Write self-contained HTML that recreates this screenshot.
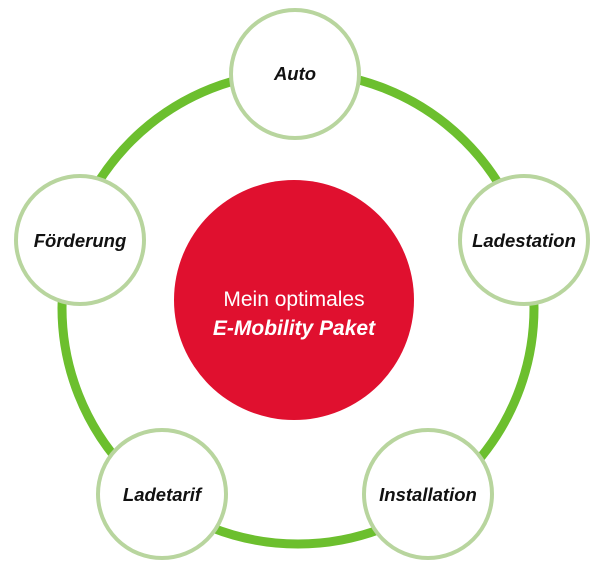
<!DOCTYPE html>
<html><head><meta charset="utf-8"><style>
html,body{margin:0;padding:0;background:#fff;}
svg{display:block;}
text{font-family:"Liberation Sans",sans-serif;}
</style></head><body>
<svg width="600" height="584" viewBox="0 0 600 584">
<circle cx="298" cy="308" r="236" fill="none" stroke="#6cbf2e" stroke-width="9"/>
<circle cx="294" cy="300" r="120" fill="#e0102f"/>
<text x="294" y="306" text-anchor="middle" fill="#fff" font-size="21">Mein optimales</text>
<text x="294" y="335" text-anchor="middle" fill="#fff" font-size="21" font-weight="bold" font-style="italic">E-Mobility Paket</text>
<g fill="#fff" stroke="#b8d59e" stroke-width="4">
<circle cx="295" cy="74" r="64"/>
<circle cx="524" cy="240" r="64"/>
<circle cx="428" cy="494" r="64"/>
<circle cx="162" cy="494" r="64"/>
<circle cx="80" cy="240" r="64"/>
</g>
<g font-size="18.5" font-weight="bold" font-style="italic" text-anchor="middle" fill="#111">
<text x="295" y="80">Auto</text>
<text x="524" y="247">Ladestation</text>
<text x="428" y="501">Installation</text>
<text x="162" y="501">Ladetarif</text>
<text x="80" y="247">Förderung</text>
</g>
</svg>
</body></html>
